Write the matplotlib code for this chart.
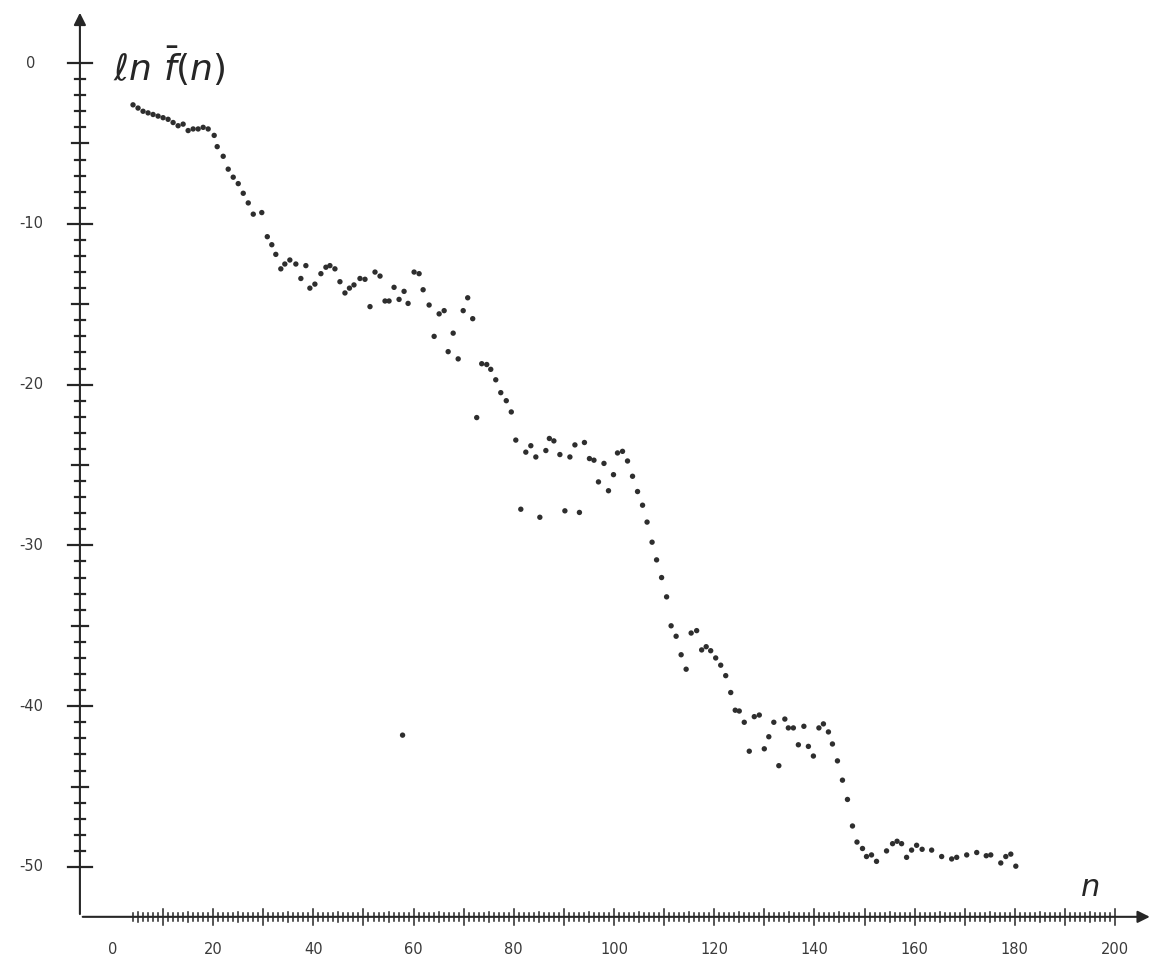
import numpy as np
import matplotlib.pyplot as plt

# ln f(n) versus n, printed as a dot plot
n_main = [4, 5, 6, 7, 8, 9, 10, 11, 12, 13, 14, 15, 16, 17, 18, 19,
          20.2, 20.8, 22.0, 23.0, 24.0, 25.0, 26.0, 27.0, 28.0, 29.7,
          30.8, 31.7, 32.5, 33.5, 34.3, 35.3, 36.5, 37.5, 38.5, 39.3,
          40.3, 41.5, 42.5, 43.3, 44.3, 45.3, 46.3, 47.2, 48.1, 49.3,
          50.3, 51.3, 52.3, 53.3, 54.3, 55.1, 56.1, 57.1, 58.1, 58.9,
          60.1, 61.1, 61.9, 63.1, 64.1, 65.1, 66.1, 66.9, 67.9, 68.9,
          69.9, 70.8, 71.8, 72.6, 73.6, 74.6, 75.4, 76.4, 77.4, 78.5,
          79.5, 80.4, 81.4, 82.4, 83.4, 84.4, 85.2, 86.4, 87.1, 88.0,
          89.2, 90.2, 91.2, 92.2, 93.1, 94.1, 95.1, 96.0, 96.9, 98.0,
          98.9, 99.9, 100.7, 101.7, 102.7, 103.7, 104.7, 105.7, 106.6, 107.6,
          108.5, 109.5, 110.5, 111.4, 112.4, 113.4, 114.4, 115.4, 116.5, 117.5,
          118.4, 119.3, 120.3, 121.3, 122.3, 123.3, 124.2, 125.0, 126.0, 127.0,
          128.0, 129.0, 130.0, 130.9, 131.9, 132.9, 134.1, 134.8, 135.8, 136.8,
          137.9, 138.8, 139.8, 140.9, 141.8, 142.8, 143.6, 144.6, 145.6, 146.6,
          147.6, 148.5, 149.6, 150.4, 151.4, 152.4, 154.4, 155.6, 156.5, 157.4,
          158.4, 159.4, 160.4, 161.5, 163.4, 165.4, 167.4, 168.4, 170.4, 172.4,
          174.3, 175.2, 177.2, 178.2, 179.2, 180.2,
          57.8]
ln_f = [-2.6, -2.8, -3.0, -3.1, -3.2, -3.3, -3.4, -3.5, -3.7, -3.9, -3.8, -4.2, -4.1, -4.1, -4.0, -4.1,
        -4.5, -5.2, -5.8, -6.6, -7.1, -7.5, -8.1, -8.7, -9.4, -9.3,
        -10.8, -11.3, -11.9, -12.8, -12.5, -12.25, -12.5, -13.4, -12.6, -14.0,
        -13.75, -13.1, -12.7, -12.6, -12.8, -13.6, -14.3, -14.0, -13.8, -13.4,
        -13.45, -15.15, -13.0, -13.25, -14.8, -14.8, -13.95, -14.7, -14.2, -14.95,
        -13.0, -13.1, -14.1, -15.05, -17.0, -15.6, -15.4, -17.95, -16.8, -18.4,
        -15.4, -14.6, -15.9, -22.05, -18.7, -18.75, -19.05, -19.7, -20.5, -21.0,
        -21.7, -23.45, -27.75, -24.2, -23.8, -24.5, -28.25, -24.1, -23.35, -23.5,
        -24.35, -27.85, -24.5, -23.75, -27.95, -23.6, -24.6, -24.7, -26.05, -24.9,
        -26.6, -25.6, -24.25, -24.15, -24.75, -25.7, -26.65, -27.5, -28.55, -29.8,
        -30.9, -32.0, -33.2, -35.0, -35.65, -36.8, -37.7, -35.45, -35.3, -36.5,
        -36.3, -36.55, -37.0, -37.45, -38.1, -39.15, -40.25, -40.3, -41.0, -42.8,
        -40.65, -40.55, -42.65, -41.9, -41.0, -43.7, -40.8, -41.35, -41.35, -42.4,
        -41.25, -42.5, -43.1, -41.35, -41.1, -41.6, -42.35, -43.4, -44.6, -45.8,
        -47.45, -48.45, -48.85, -49.35, -49.25, -49.65, -49.0, -48.55, -48.4, -48.55,
        -49.4, -48.95, -48.65, -48.9, -48.95, -49.35, -49.5, -49.4, -49.25, -49.1,
        -49.3, -49.25, -49.75, -49.35, -49.2, -49.95,
        -41.8]

y_ticks = [0, -10, -20, -30, -40, -50]
x_ticks = [0, 20, 40, 60, 80, 100, 120, 140, 160, 180, 200]

ink = '#262626'

fig = plt.figure(figsize=(11.6, 9.67), dpi=100)
ax = fig.add_axes([0, 0, 1, 1])
ax.set_xlim(-22.55, 208.98)
ax.set_ylim(-56.22, 3.92)
ax.axis('off')

# size of one pixel in data units
px_x = (208.98 + 22.55) / 1160
px_y = (3.92 + 56.22) / 967

x0 = -6.6     # where the vertical axis sits
y0 = -53.1    # where the horizontal axis sits

# axes with arrow heads
ax.annotate('', xy=(x0, 3.3), xytext=(x0, y0),
            arrowprops=dict(arrowstyle='-|>', color=ink, lw=1.5, mutation_scale=18))
ax.annotate('', xy=(207.5, y0), xytext=(x0, y0),
            arrowprops=dict(arrowstyle='-|>', color=ink, lw=1.5, mutation_scale=18))

# vertical axis ticks (crossing the axis)
for v in range(0, -51, -1):
    if v % 10 == 0:
        h = 12
    elif v % 5 == 0:
        h = 8
    else:
        h = 5
    ax.plot([x0 - h * px_x, x0 + h * px_x], [v, v], color=ink, lw=1.6)

# horizontal axis ticks
for v in range(4, 201):
    if v % 10 == 0:
        h = 8
    elif v % 5 == 0:
        h = 5
    else:
        h = 4
    ax.plot([v, v], [y0 - h * px_y, y0 + h * px_y], color=ink, lw=1.1)

for v in y_ticks:
    ax.text(x0 - 49 * px_x, v, str(v), ha='center', va='center',
            fontsize=10.5, color='#3a3a3a', family='DejaVu Sans')
for v in x_ticks:
    ax.text(v, y0 - 33 * px_y, str(v), ha='center', va='center',
            fontsize=10.5, color='#3a3a3a', family='DejaVu Sans')

ax.text(0, -0.2, r'$\ell n\ \bar{f}(n)$', fontsize=26, color=ink,
        ha='left', va='center')
ax.text(195, -51.3, r'$n$', fontsize=22, color=ink, ha='center', va='center')

ax.scatter(n_main, ln_f, s=15, color='#2e2e2e', edgecolors='none', zorder=3)

fig.savefig('out.png', dpi=100, facecolor='white')
